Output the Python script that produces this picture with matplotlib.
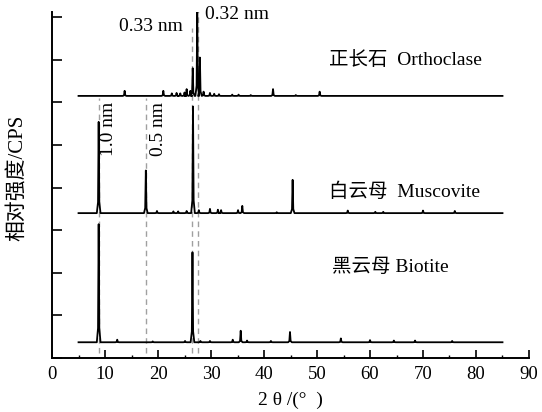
import numpy as np
import matplotlib
matplotlib.use('Agg')
import matplotlib.pyplot as plt
from matplotlib.ticker import MultipleLocator

plt.rcParams['font.family'] = ['Liberation Serif', 'Noto Sans CJK SC']

# peak positions (2theta, deg) and heights above baseline
orth_base = 6.15
orth_pos = [13.7, 21.0, 22.6, 23.5, 24.2, 25.0, 25.4, 26.1, 26.55, 27.4, 27.9, 28.6, 29.8, 30.6, 31.5, 34.0, 35.2, 37.5, 41.7, 46.0, 50.5]
orth_h = [0.12, 0.12, 0.06, 0.07, 0.06, 0.08, 0.16, 0.12, 0.65, 2.0, 0.9, 0.1, 0.07, 0.05, 0.04, 0.03, 0.03, 0.02, 0.16, 0.02, 0.1]

musc_base = 3.40
musc_pos = [8.8, 17.7, 19.8, 22.9, 23.8, 25.4, 26.6, 27.7, 29.8, 31.3, 31.9, 35.1, 35.9, 42.4, 45.4, 55.8, 61.0, 62.5, 70.0, 76.0]
musc_h = [2.14, 1.0, 0.05, 0.04, 0.04, 0.05, 2.5, 0.07, 0.1, 0.08, 0.07, 0.07, 0.17, 0.02, 0.78, 0.06, 0.03, 0.03, 0.06, 0.05]

biot_base = 0.37
biot_pos = [8.8, 12.3, 19.0, 25.1, 26.5, 28.0, 29.8, 34.1, 35.6, 36.8, 41.3, 44.9, 54.5, 60.0, 64.5, 68.5, 75.5]
biot_h = [2.77, 0.06, 0.02, 0.03, 2.11, 0.03, 0.03, 0.06, 0.27, 0.04, 0.03, 0.24, 0.09, 0.05, 0.04, 0.04, 0.03]

# reference d-spacing lines: position, label, y range
ref_pos = [8.8, 17.7, 26.5, 27.5]
ref_lbl = ['1.0 nm', '0.5 nm', '0.33 nm', '0.32 nm']
ref_top = [6.1, 6.1, 7.75, 8.15]


def trace(base, pos, h):
    xs = [5.0]
    ys = [base]
    for p, hh in sorted(zip(pos, h)):
        xs += [p - 0.35, p - 0.12, p, p + 0.12, p + 0.35]
        ys += [base, base + 0.12 * hh, base + hh, base + 0.12 * hh, base]
    xs.append(85.0)
    ys.append(base)
    return xs, ys


fig = plt.figure(figsize=(5.42, 4.12), dpi=100)
ax = fig.add_axes([0.096, 0.131, 0.88, 0.84])

for x0, top in zip(ref_pos, ref_top):
    ax.plot([x0, x0], [0.12, top], color='#a0a0a0', lw=1.0, dashes=(4, 3))

for base, pos, h in [(orth_base, orth_pos, orth_h), (musc_base, musc_pos, musc_h), (biot_base, biot_pos, biot_h)]:
    xs, ys = trace(base, pos, h)
    ax.plot(xs, ys, color='black', lw=1.3)

fs = 14
ax.text(24.7, 7.77, ref_lbl[2], fontsize=fs, ha='right', va='center')
ax.text(28.8, 8.05, ref_lbl[3], fontsize=fs, ha='left', va='center')
ax.text(10.6, 5.37, ref_lbl[0], fontsize=fs, ha='center', va='center', rotation=90)
ax.text(20.0, 5.37, ref_lbl[1], fontsize=fs, ha='center', va='center', rotation=90)

ax.text(66.6, 7.0, '正长石  Orthoclase', fontsize=fs, ha='center', va='center')
ax.text(66.6, 3.9, '白云母  Muscovite', fontsize=fs, ha='center', va='center')
ax.text(63.8, 2.14, '黑云母 Biotite', fontsize=fs, ha='center', va='center')

ax.set_xlim(0, 90)
ax.set_ylim(0, 8.12)
ax.xaxis.set_major_locator(MultipleLocator(10))
ax.xaxis.set_minor_locator(MultipleLocator(5))
ax.yaxis.set_major_locator(MultipleLocator(1))
ax.set_yticklabels([])
ax.tick_params(axis='x', which='major', direction='in', length=6, width=1.2, labelsize=13.5, pad=6)
ax.tick_params(axis='x', which='minor', direction='in', length=2.5, width=1.0)
ax.tick_params(axis='y', which='major', direction='in', length=7, width=1.2, left=True, labelleft=False)
ax.spines['top'].set_visible(False)
ax.spines['right'].set_visible(False)
ax.spines['left'].set_linewidth(1.4)
ax.spines['bottom'].set_linewidth(1.4)

ax.set_xlabel('2 θ /(°  )', fontsize=14, labelpad=6)
ax.set_ylabel('相对强度/CPS', fontsize=15)
ax.yaxis.set_label_coords(-0.052, 0.52)

fig.savefig('out.png', dpi=100)
